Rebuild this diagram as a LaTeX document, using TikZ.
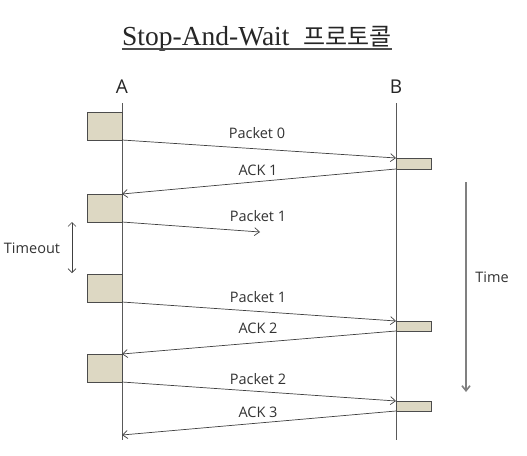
\documentclass[tikz,border=0pt]{standalone}
\usepackage{fontspec}
\setmainfont{Open Sans}
\newfontfamily\titlefont{Liberation Serif}
\newfontfamily\krfont{Noto Sans CJK KR}
\usetikzlibrary{arrows.meta}
\begin{document}
\begin{tikzpicture}[x=1pt,y=-1pt,
  life/.style={draw=black!65, line width=0.9pt},
  abox/.style={draw=black!70, fill=boxfill, line width=0.8pt, inner sep=0pt, outer sep=0pt, minimum width=35pt, minimum height=28pt, anchor=north east},
  bbox/.style={draw=black!70, fill=boxfill, line width=0.8pt, inner sep=0pt, outer sep=0pt, minimum width=35pt, minimum height=10pt, anchor=north west},
  msg/.style={draw=black!75, line width=0.7pt, -{Straight Barb[length=5pt,width=8pt]}},
  lbl/.style={font=\fontsize{14.5}{17}\selectfont, text=black!80, inner sep=0pt},
  hdr/.style={font=\fontsize{19}{22}\selectfont, text=black!85, inner sep=0pt}]
\definecolor{boxfill}{HTML}{DDD8C3}
\useasboundingbox (0,0) rectangle (527,455);
\fill[white] (0,0) rectangle (527,455);
% title
\node[inner sep=0pt, anchor=base, text=black!85] (title) at (257,45) {\fontsize{27.5}{30}\selectfont\titlefont Stop-And-Wait\hspace{14pt}{\krfont\fontsize{24}{26}\selectfont 프로토콜}};
\draw[black!70, line width=1.5pt] (title.south west |- 0,49) -- (title.south east |- 0,49);
% headers
\node[hdr] (A) at (122,87) {A};
\node[hdr] (B) at (396,87) {B};
\coordinate (Atop) at (122,103);
\coordinate (Abot) at (122,440);
\coordinate (Btop) at (396,103);
\coordinate (Bbot) at (396,440);
\draw[life] (Atop) -- (Abot);
\draw[life] (Btop) -- (Bbot);
% boxes at A
\node[abox] (a1) at (122,112) {};
\node[abox] (a2) at (122,194) {};
\node[abox] (a3) at (122,274) {};
\node[abox] (a4) at (122,354) {};
% boxes at B
\node[bbox, minimum height=11pt] (b1) at (396,158) {};
\node[bbox] (b2) at (396,321) {};
\node[bbox] (b3) at (396,401) {};
\coordinate (lost) at (260,232);
\coordinate (ack3end) at (122,435);
% messages
\draw[msg] (a1.south east) -- (b1.north west);
\draw[msg] (b1.south west) -- (a2.north east);
\draw[msg] (a2.south east) -- (lost);
\draw[msg] (a3.south east) -- (b2.north west);
\draw[msg] (b2.south west) -- (a4.north east);
\draw[msg] (a4.south east) -- (b3.north west);
\draw[msg] (b3.south west) -- (ack3end);
% labels
\node[lbl] (l1) at (257,133) {Packet 0};
\node[lbl] (l2) at (258,170) {ACK 1};
\node[lbl] (l3) at (258,216) {Packet 1};
\node[lbl] (l4) at (258,297) {Packet 1};
\node[lbl] (l5) at (258,328) {ACK 2};
\node[lbl] (l6) at (258,379) {Packet 2};
\node[lbl] (l7) at (258,412) {ACK 3};
% timeout
\coordinate (t1) at (72,222);
\coordinate (t2) at (72,273);
\draw[black!75, line width=0.7pt, {Straight Barb[length=4pt,width=8pt]}-{Straight Barb[length=4pt,width=8pt]}] (t1) -- (t2);
\node[lbl] (timeout) at (32,248) {Timeout};
% time
\coordinate (tm1) at (466,182);
\coordinate (tm2) at (466,392);
\draw[black!50, line width=1.6pt, -{Straight Barb[length=5pt,width=8pt]}] (tm1) -- (tm2);
\node[lbl] (time) at (492,277) {Time};
\end{tikzpicture}
\end{document}
